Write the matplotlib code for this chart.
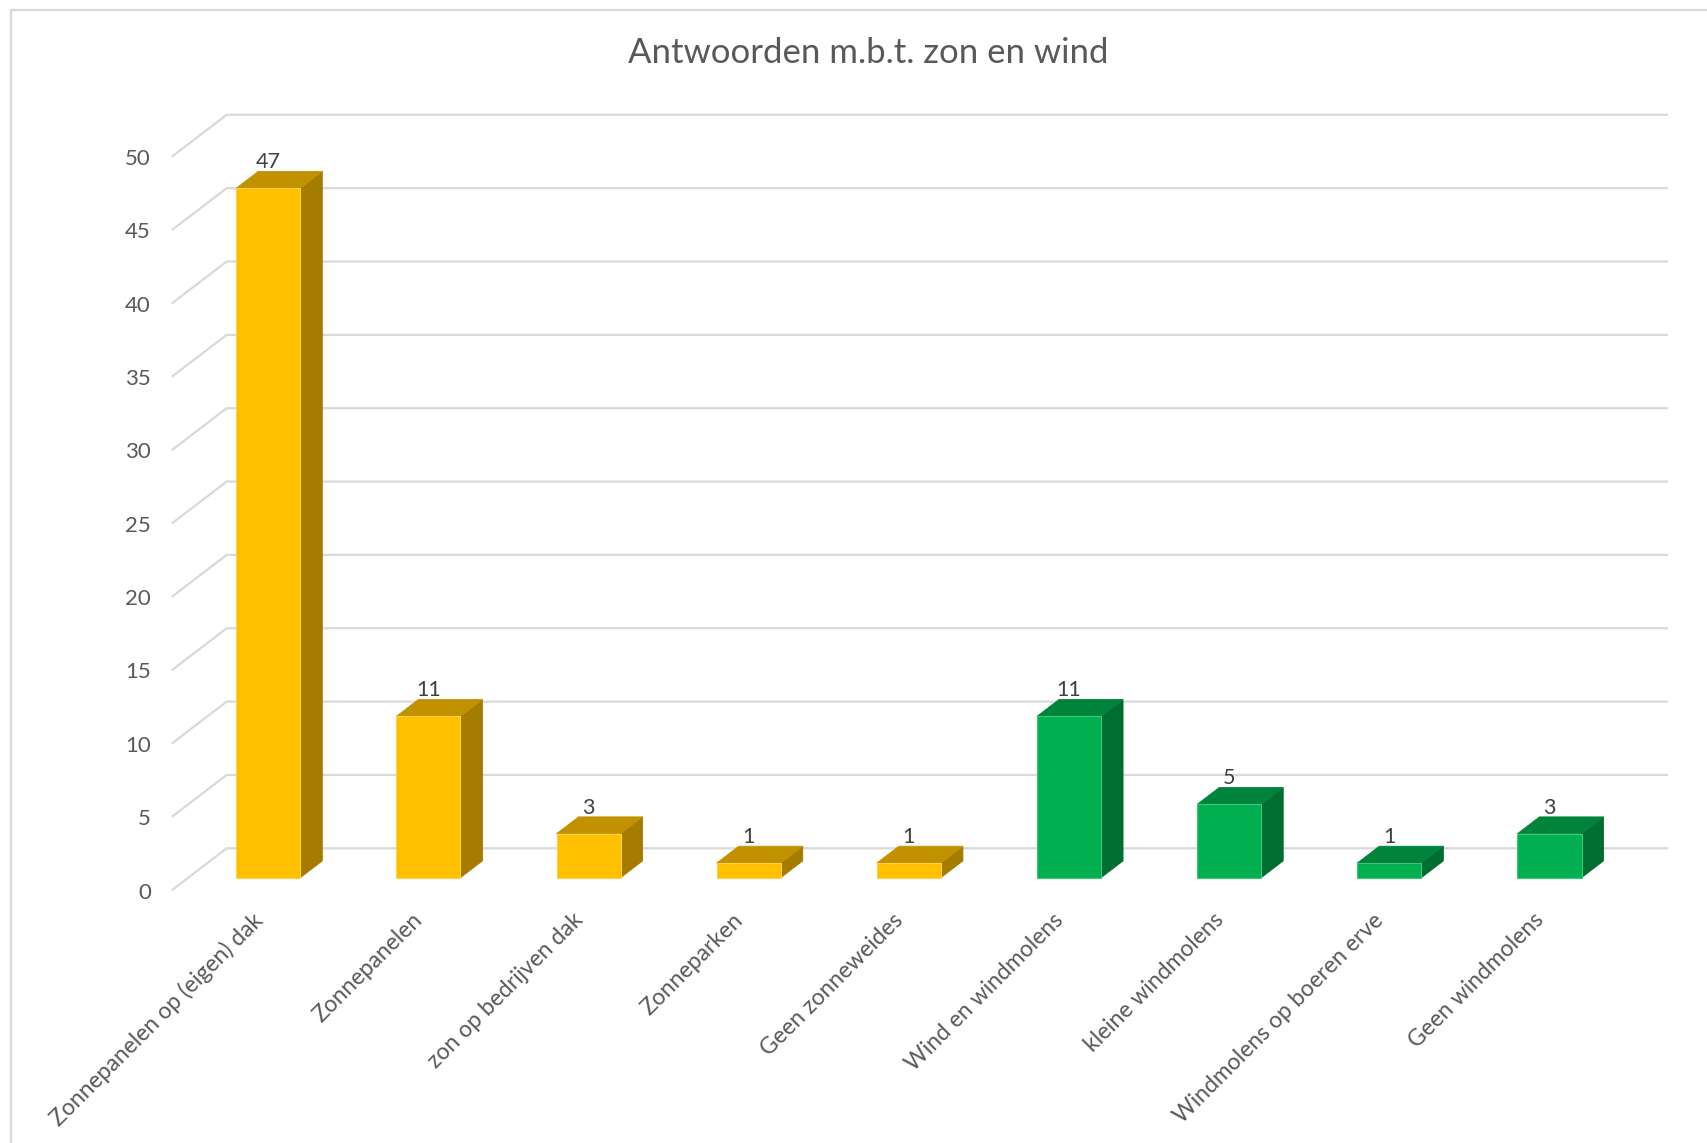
import matplotlib
matplotlib.use("Agg")
import matplotlib.pyplot as plt
from matplotlib.patches import Polygon
from matplotlib.lines import Line2D

categories = ["Zonnepanelen op (eigen) dak", "Zonnepanelen", "zon op bedrijven dak",
              "Zonneparken", "Geen zonneweides", "Wind en windmolens",
              "kleine windmolens", "Windmolens op boeren erve", "Geen windmolens"]
values = [47, 11, 3, 1, 1, 11, 5, 1, 3]
groups = ["zon", "zon", "zon", "zon", "zon", "wind", "wind", "wind", "wind"]
yticks = [0, 5, 10, 15, 20, 25, 30, 35, 40, 45, 50]
title = "Antwoorden m.b.t. zon en wind"

palette = {
    "zon": {"front": "#FFC000", "top": "#C29100", "side": "#A67C00", "edge": "#FFD04D"},
    "wind": {"front": "#00B050", "top": "#00833B", "side": "#006E31", "edge": "#3CC878"},
}

plt.rcParams["font.family"] = ["Lato", "DejaVu Sans"]

W, H = 17.08, 11.43
fig = plt.figure(figsize=(W, H), dpi=100)
ax = fig.add_axes([0, 0, 1, 1])
ax.set_axis_off()

# pixel mapping of the chart plane (category units / value units)
cat_px = 160.15
val_px = 14.67
x0_px = 171.7  # left of category -0.5 at front
y0_px = 890.3  # value 0 at front (from top)
xl = -0.5 - x0_px / cat_px
xr = -0.5 + (1708 - x0_px) / cat_px
yb = (y0_px - 1143) / val_px
yt = y0_px / val_px
ax.set_xlim(xl, xr)
ax.set_ylim(yb, yt)

# depth offsets in data units
ddx = 55 / cat_px
ddy = 42 / val_px

grid_c = "#D9D9D9"
n = len(categories)
for v in yticks:
    ax.add_line(Line2D([-0.5, -0.5 + ddx, n - 0.5 + ddx], [v, v + ddy, v + ddy],
                       color=grid_c, lw=1.6, zorder=1, solid_capstyle="butt"))
    ax.text(-0.5 - 0.13, v - 0.15, str(v), ha="right", va="center", fontsize=16,
            color="#595959")

bw = 0.2
z0, z1 = 0.3, 0.7
for i, (v, g) in enumerate(zip(values, groups)):
    c = palette[g]
    fx = i + z0 * ddx
    fy = z0 * ddy
    bx = i + z1 * ddx
    by = z1 * ddy
    # side
    ax.add_patch(Polygon([(fx + bw, fy), (bx + bw, by), (bx + bw, by + v), (fx + bw, fy + v)],
                         closed=True, facecolor=c["side"], edgecolor=c["side"], lw=0.6, zorder=3))
    # top
    ax.add_patch(Polygon([(fx - bw, fy + v), (fx + bw, fy + v), (bx + bw, by + v), (bx - bw, by + v)],
                         closed=True, facecolor=c["top"], edgecolor=c["top"], lw=0.6, zorder=3))
    # front
    ax.add_patch(Polygon([(fx - bw, fy), (fx + bw, fy), (fx + bw, fy + v), (fx - bw, fy + v)],
                         closed=True, facecolor=c["front"], edgecolor=c["edge"], lw=0.8, zorder=4))
    ax.text(fx, by + v - 0.05, str(v), ha="center", va="bottom", fontsize=15.5,
            color="#404040", zorder=5)
    ax.text(i + 0.0, -1.3, categories[i], rotation=45, rotation_mode="anchor",
            ha="right", va="top", fontsize=16.5, color="#595959")

ax.text(0.5 * (xl + xr) + 0.09, (y0_px - 53) / val_px, title, ha="center", va="center",
        fontsize=25, color="#595959")

# chart frame (top and left visible)
ax.add_line(Line2D([11 / 1708, 11 / 1708, 1.0], [0.0, 1 - 10 / 1143, 1 - 10 / 1143],
                   transform=ax.transAxes, color=grid_c, lw=1.6))

fig.savefig("out.png", dpi=100)
